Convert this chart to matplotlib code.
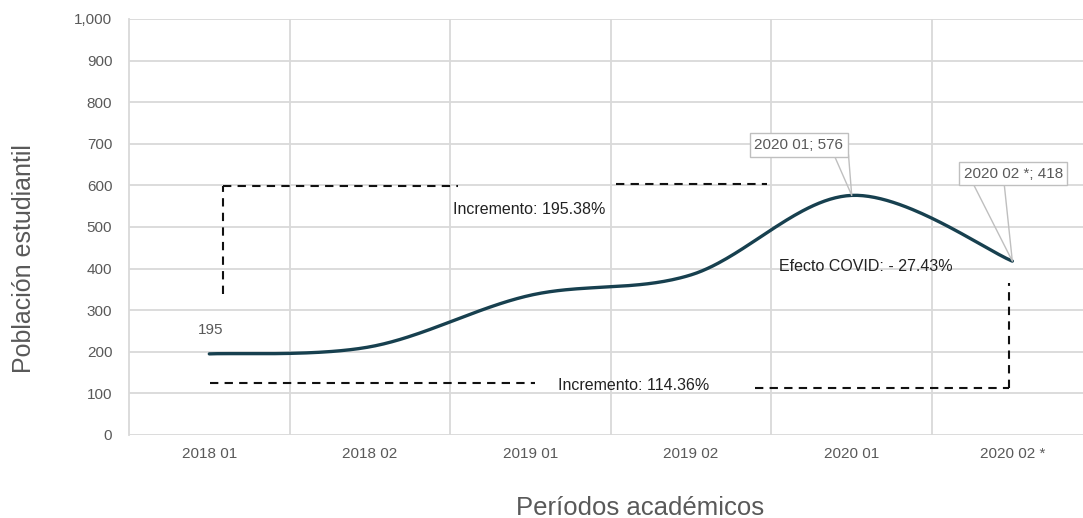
import numpy as np
import matplotlib
matplotlib.use("Agg")
import matplotlib.pyplot as plt

plt.rcParams['font.family'] = ['Liberation Sans', 'DejaVu Sans']

# ---- data ----
periods = ["2018 01", "2018 02", "2019 01", "2019 02", "2020 01", "2020 02 *"]
students = [195, 212, 336, 385, 576, 418]
y_ticks = [0, 100, 200, 300, 400, 500, 600, 700, 800, 900, 1000]
y_tick_labels = ["0", "100", "200", "300", "400", "500", "600", "700", "800", "900", "1,000"]

first_label = "195"
peak_label = "2020 01; 576"
last_label = "2020 02 *; 418"
inc_top = "Incremento: 195.38%"
inc_bottom = "Incremento: 114.36%"
covid = "Efecto COVID: - 27.43%"

GRID = "#d9d9d9"
TXT = "#595959"
LINE = "#17404f"


def catmull_rom(xs, ys, n=60):
    xs = np.asarray(xs, float)
    ys = np.asarray(ys, float)
    px = np.concatenate([[xs[0]], xs, [xs[-1]]])
    py = np.concatenate([[ys[0]], ys, [ys[-1]]])
    ox, oy = [], []
    for i in range(1, len(px) - 2):
        p0 = np.array([px[i - 1], py[i - 1]])
        p1 = np.array([px[i], py[i]])
        p2 = np.array([px[i + 1], py[i + 1]])
        p3 = np.array([px[i + 2], py[i + 2]])
        c1 = p1 + (p2 - p0) / 6.0
        c2 = p2 - (p3 - p1) / 6.0
        t = np.linspace(0, 1, n)[:, None]
        b = ((1 - t) ** 3) * p1 + 3 * ((1 - t) ** 2) * t * c1 + 3 * (1 - t) * t ** 2 * c2 + t ** 3 * p2
        ox.extend(b[:, 0])
        oy.extend(b[:, 1])
    return np.array(ox), np.array(oy)


fig = plt.figure(figsize=(10.83, 5.18), dpi=100)
ax = fig.add_axes([129 / 1083, 83 / 518, 954 / 1083, 416 / 518])

x = np.arange(len(periods))
sx, sy = catmull_rom(x, students)
ax.plot(sx, sy, color=LINE, lw=2.4, solid_capstyle='round', zorder=5)

ax.set_xlim(-0.5, 5.44)
ax.set_ylim(0, 1000)
ax.set_yticks(y_ticks)
ax.set_yticklabels(y_tick_labels)
ax.set_xticks(x)
ax.set_xticklabels(periods)
ax.tick_params(axis='both', length=0, colors=TXT, labelsize=11)
ax.tick_params(axis='y', pad=12)
ax.tick_params(axis='x', pad=9)

for yt in y_ticks:
    ax.axhline(yt, color=GRID, lw=1.3, zorder=0)
for b in np.arange(0.5, len(periods) - 1, 1.0):
    ax.axvline(b, color=GRID, lw=1.3, zorder=0)
for s in ['top', 'right', 'bottom']:
    ax.spines[s].set_visible(False)
ax.spines['left'].set_color(GRID)
ax.spines['left'].set_linewidth(1.3)

ax.set_ylabel("Población estudiantil", fontsize=18, color=TXT)
ax.yaxis.set_label_coords(-0.097, 0.423)
ax.set_xlabel("Períodos académicos", fontsize=18.5, color=TXT)
ax.xaxis.set_label_coords(0.536, -0.146)

# dashed annotation guides
dash = dict(color='#111111', lw=1.5, ls=(0, (4, 3)), zorder=4)
ax.plot([0.087, 0.087], [339, 598], **dash)
ax.plot([0.087, 1.55], [598, 598], **dash)
ax.plot([2.53, 3.47], [603, 603], **dash)
ax.plot([0.006, 2.03], [124, 124], **dash)
ax.plot([3.40, 4.98], [112, 112], **dash)
ax.plot([4.98, 4.98], [112, 365], **dash)

ax.text(0.01, 252, first_label, fontsize=11, color=TXT, ha='center', va='center')
ax.text(1.52, 541, inc_top, fontsize=11.5, color='#222222', ha='left', va='center')
ax.text(2.17, 118, inc_bottom, fontsize=11.5, color='#222222', ha='left', va='center')
ax.text(3.55, 404, covid, fontsize=11.5, color='#222222', ha='left', va='center')

# callouts
box = dict(boxstyle='square,pad=0.3', fc='white', ec='#bfbfbf', lw=1.0)
ax.text(3.67, 697, peak_label, fontsize=11, color=TXT, ha='center', va='center', bbox=box, zorder=7)
ax.plot([3.89, 4.0, 3.98], [673, students[4], 673], color='#bfbfbf', lw=1.0, zorder=6)
ax.text(5.005, 628, last_label, fontsize=11, color=TXT, ha='center', va='center', bbox=box, zorder=7)
ax.plot([4.76, 5.0, 4.95], [601, students[5], 601], color='#bfbfbf', lw=1.0, zorder=6)

fig.savefig("out.png", dpi=100)
